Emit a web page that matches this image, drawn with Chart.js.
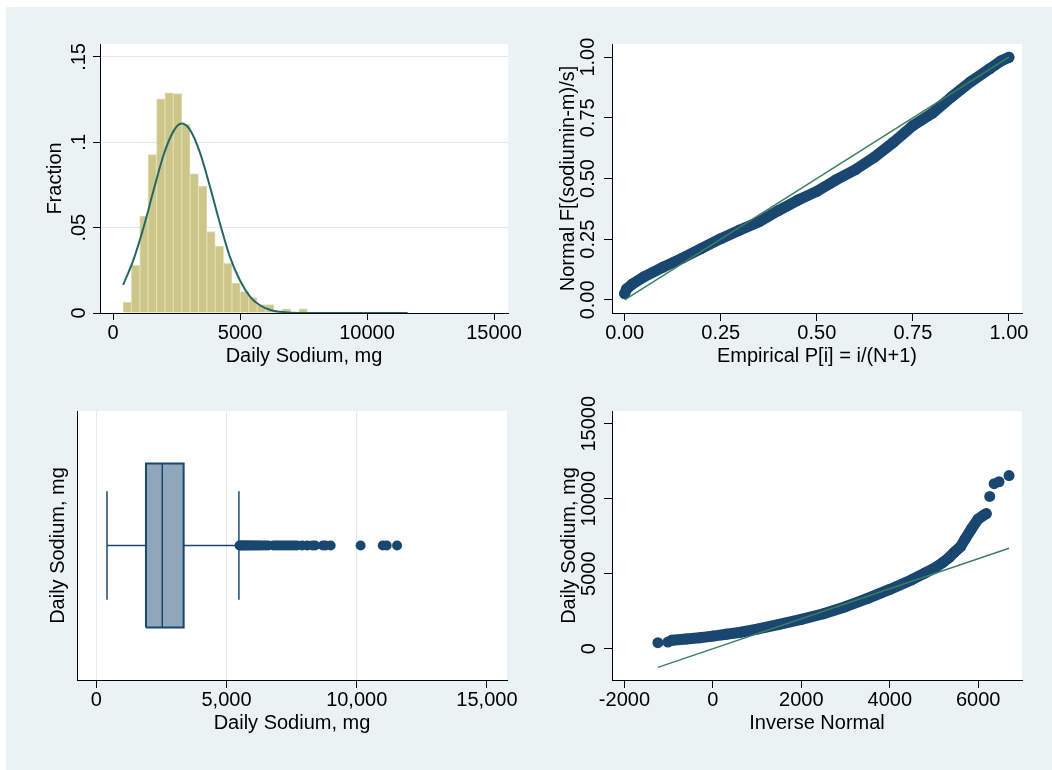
<!DOCTYPE html>
<html>
<head>
<meta charset="utf-8">
<script src="https://cdn.jsdelivr.net/npm/chart.js@4.4.1/dist/chart.umd.min.js"></script>
<style>
  html, body { margin: 0; padding: 0; background: #fff; }
  #page { position: relative; width: 1052px; height: 770px; overflow: hidden; }
  #bg { position: absolute; left: 6px; top: 7px; right: 0; bottom: 0; background: #eaf2f3; }
  canvas { position: absolute; }
</style>
</head>
<body>
<div id="page">
  <div id="bg"></div>
  <canvas id="hist" width="526" height="385" style="left:0;top:0"></canvas>
  <canvas id="pnorm" width="526" height="385" style="left:526px;top:0"></canvas>
  <canvas id="box" width="526" height="385" style="left:0;top:385px"></canvas>
  <canvas id="qnorm" width="526" height="385" style="left:526px;top:385px"></canvas>
</div>
<script>
// --- histogram: bin centres (mg) and fraction per bin
const histBins = [559, 889, 1219, 1549, 1879, 2209, 2539, 2869, 3199, 3529, 3859, 4189, 4519, 4849, 5179, 5509, 5839,
                  6169, 6499, 6829, 7159, 7489, 7819, 8149, 8479, 8809, 9139, 9469, 9799, 10129, 10459, 10789, 11119, 11449];
const histFraction = [0.0063, 0.0280, 0.0568, 0.0928, 0.1255, 0.1290, 0.1285, 0.1105, 0.0816, 0.0743, 0.0477, 0.0392,
                      0.0291, 0.0176, 0.0125, 0.0090, 0.0050, 0.0049, 0.0010, 0.0024, 0.0006, 0.0024, 0.0006, 0.0003,
                      0.0000, 0.0006, 0.0003, 0.0000, 0.0000, 0.0000, 0.0003, 0.0000, 0.0006, 0.0003];
// normal curve overlay
const normalX = [400, 800, 1200, 1600, 2000, 2400, 2700, 3000, 3400, 3800, 4200, 4600, 5000, 5400, 5800, 6200, 6600, 7000, 7600, 8500, 10000, 11600];
const normalY = [0.0165, 0.031, 0.050, 0.072, 0.093, 0.107, 0.111, 0.108, 0.095, 0.075, 0.053, 0.033, 0.019, 0.0095,
                 0.0044, 0.0018, 0.0007, 0.0002, 0, 0, 0, 0];

// --- P-P plot
const ppEmpirical = [0.000, 0.005, 0.02, 0.05, 0.10, 0.15, 0.20, 0.25, 0.30, 0.35, 0.40, 0.45, 0.50, 0.55, 0.60, 0.65,
                     0.70, 0.75, 0.80, 0.85, 0.90, 0.95, 0.98, 1.00];
const ppNormal = [0.026, 0.045, 0.065, 0.095, 0.135, 0.172, 0.212, 0.252, 0.288, 0.322, 0.368, 0.410, 0.447, 0.494,
                  0.536, 0.588, 0.650, 0.718, 0.768, 0.835, 0.898, 0.952, 0.985, 0.999];

// --- box plot
const boxWhiskers = [411, 5476];
const boxQuartiles = [1907, 2533, 3354];
const boxOutliers = [5500, 5550, 5600, 5650, 5700, 5760, 5820, 5880, 5950, 6000, 6080, 6150, 6230, 6300, 6400, 6500,
                     6600, 6800, 6900, 7000, 7100, 7200, 7300, 7400, 7500, 7600, 7700, 7900, 8100, 8300, 8400, 8700,
                     8800, 9000, 10150, 11000, 11150, 11550];

// --- Q-Q plot
const qqInverse = [-926, -600, -300, 0, 300, 600, 1000, 1500, 2000, 2500, 3000, 3500, 4000, 4500, 4800, 5000, 5200,
                   5350, 5450, 5600, 5700, 5850, 6000, 6100, 6180];
const qqSodium = [560, 650, 730, 840, 960, 1080, 1300, 1620, 1960, 2330, 2800, 3350, 3950, 4600, 5050, 5350, 5750,
                  6100, 6400, 6800, 7300, 8000, 8650, 8850, 9000];
const qqTailInverse = [-1243, -1017, 6260, 6360, 6470, 6697];
const qqTailSodium = [400, 444, 10150, 11000, 11130, 11540];
const qqLine = [-1243, 6697];

// tick values and labels
const histXTicks = [0, 5000, 10000, 15000];
const histXLabels = ['0', '5000', '10000', '15000'];
const histYTicks = [0, 0.05, 0.1, 0.15];
const histYLabels = ['0', '.05', '.1', '.15'];
const ppTicks = [0, 0.25, 0.5, 0.75, 1];
const ppLabels = ['0.00', '0.25', '0.50', '0.75', '1.00'];
const boxXTicks = [0, 5000, 10000, 15000];
const boxXLabels = ['0', '5,000', '10,000', '15,000'];
const qqXTicks = [-2000, 0, 2000, 4000, 6000];
const qqXLabels = ['-2000', '0', '2000', '4000', '6000'];
const qqYTicks = [0, 5000, 10000, 15000];
const qqYLabels = ['0', '5000', '10000', '15000'];

const FONT = '"Liberation Sans", Arial, Helvetica, sans-serif';
const FS = 20;
const NAVY = '#1a476f';
const GRID = '#e2eaee';
const REF = '#3b7f60';

Chart.defaults.font.family = FONT;
Chart.defaults.font.size = FS;
Chart.defaults.color = '#000';

const measure = document.createElement('canvas').getContext('2d');
measure.font = FS + 'px ' + FONT;
function widest(labels) {
    return Math.max(...labels.map(t => measure.measureText(t).width));
}

const plotBackground = {
    id: 'plotBackground',
    beforeDraw(chart) {
        const { ctx, chartArea: a } = chart;
        ctx.save();
        ctx.fillStyle = '#fff';
        ctx.fillRect(a.left, a.top, a.right - a.left, a.bottom - a.top);
        ctx.restore();
    }
};
Chart.register(plotBackground);

function xAxis({ min, max, ticks, labels, title, height, titlePad, tl, grid }) {
    return {
        type: 'linear', position: 'bottom', min, max, offset: false,
        afterBuildTicks: s => { s.ticks = ticks.map(v => ({ value: v })); },
        afterFit: s => { s.height = height; },
        ticks: { autoSkip: false, minRotation: 0, maxRotation: 0, padding: 8.7 - tl, color: '#000',
                 callback: (v, i) => labels[i] },
        grid: { offset: false, drawOnChartArea: !!grid, color: grid || 'transparent', tickLength: tl, tickColor: '#000' },
        border: { display: true, color: '#000', width: 1 },
        title: { display: true, text: title, color: '#000', padding: { top: 0, bottom: titlePad } }
    };
}

function yAxis({ min, max, ticks, labels, title, width, titlePad, dist, tl, grid, hide }) {
    return {
        type: 'linear', position: 'left', min, max,
        afterBuildTicks: s => { s.ticks = ticks.map(v => ({ value: v })); },
        afterFit: s => { s.width = width; },
        ticks: { display: !hide, autoSkip: false, minRotation: 90, maxRotation: 90, crossAlign: 'center',
                 padding: hide ? 0 : dist - tl - widest(labels) / 2, color: '#000',
                 callback: (v, i) => labels[i] },
        grid: { drawOnChartArea: !!grid, color: grid || 'transparent', tickLength: tl, tickColor: '#000', drawTicks: !hide },
        border: { display: true, color: '#000', width: 1 },
        title: { display: true, text: title, color: '#000', padding: { top: titlePad, bottom: 0 } }
    };
}

function baseOptions(padding, scales) {
    return {
        responsive: false, animation: false, devicePixelRatio: 1,
        layout: { padding },
        plugins: { legend: { display: false }, tooltip: { enabled: false } },
        scales
    };
}

function points(xs, ys) {
    return xs.map((x, i) => ({ x, y: ys[i] }));
}

// top left: histogram with normal curve
new Chart(document.getElementById('hist'), {
    type: 'bar',
    data: {
        datasets: [{
            type: 'line',
            data: points(normalX, normalY),
            borderColor: '#246864', borderWidth: 2, pointRadius: 0, cubicInterpolationMode: 'monotone'
        }, {
            type: 'bar',
            data: points(histBins, histFraction),
            backgroundColor: '#cdc68a', borderColor: '#e0dbae', borderWidth: 1, borderSkipped: 'start',
            barPercentage: 1, categoryPercentage: 1
        }]
    },
    options: baseOptions({ left: 0, top: 44, right: 18, bottom: 0 }, {
        x: xAxis({ min: -512, max: 15551, ticks: histXTicks, labels: histXLabels, title: 'Daily Sodium, mg',
                   height: 72, titlePad: 16.5, tl: 7 }),
        y: yAxis({ min: 0, max: 0.1576, ticks: histYTicks, labels: histYLabels, title: 'Fraction',
                   width: 100, titlePad: 43.5, dist: 21, tl: 7,
                   grid: c => (c.tick && c.tick.value === 0 ? 'transparent' : GRID) })
    })
});

// top right: standardized normal probability plot
new Chart(document.getElementById('pnorm'), {
    type: 'scatter',
    data: {
        datasets: [{
            data: points([0, 1], [0, 1]),
            showLine: true, borderColor: REF, borderWidth: 1.5, pointRadius: 0
        }, {
            data: points(ppEmpirical, ppNormal),
            showLine: true, borderColor: NAVY, borderWidth: 11, borderCapStyle: 'round', borderJoinStyle: 'round',
            pointRadius: 5.5, pointBackgroundColor: NAVY, pointBorderWidth: 0
        }]
    },
    options: baseOptions({ left: 0, top: 44, right: 30, bottom: 0 }, {
        x: xAxis({ min: -0.033, max: 1.034, ticks: ppTicks, labels: ppLabels, title: 'Empirical P[i] = i/(N+1)',
                   height: 72, titlePad: 16.5, tl: 8 }),
        y: yAxis({ min: -0.054, max: 1.054, ticks: ppTicks, labels: ppLabels, title: 'Normal F[(sodiumin-m)/s]',
                   width: 86, titlePad: 30, dist: 24, tl: 8 })
    })
});

// bottom left: horizontal box plot
const BOX_LO = 0.195, BOX_HI = 0.805, CAP_LO = 0.298, CAP_HI = 0.702, MID = 0.5;
const boxLine = { showLine: true, borderColor: NAVY, borderWidth: 1.5, pointRadius: 0 };
new Chart(document.getElementById('box'), {
    type: 'scatter',
    data: {
        datasets: [
            { ...boxLine, data: [{ x: boxQuartiles[1], y: BOX_LO }, { x: boxQuartiles[1], y: BOX_HI }] },
            { ...boxLine, borderWidth: 2, backgroundColor: '#8fa6bb', fill: 'shape',
              data: [{ x: boxQuartiles[0], y: BOX_LO }, { x: boxQuartiles[2], y: BOX_LO }, { x: boxQuartiles[2], y: BOX_HI },
                     { x: boxQuartiles[0], y: BOX_HI }, { x: boxQuartiles[0], y: BOX_LO }] },
            { ...boxLine, data: [{ x: boxWhiskers[0], y: MID }, { x: boxQuartiles[0], y: MID }] },
            { ...boxLine, data: [{ x: boxQuartiles[2], y: MID }, { x: boxWhiskers[1], y: MID }] },
            { ...boxLine, data: [{ x: boxWhiskers[0], y: CAP_LO }, { x: boxWhiskers[0], y: CAP_HI }] },
            { ...boxLine, data: [{ x: boxWhiskers[1], y: CAP_LO }, { x: boxWhiskers[1], y: CAP_HI }] },
            { data: boxOutliers.map(x => ({ x, y: MID })), pointRadius: 5, pointBackgroundColor: NAVY, pointBorderWidth: 0 }
        ]
    },
    options: baseOptions({ left: 0, top: 26, right: 19, bottom: 0 }, {
        x: xAxis({ min: -741, max: 15771, ticks: boxXTicks, labels: boxXLabels, title: 'Daily Sodium, mg',
                   height: 90, titlePad: 34.5, tl: 8,
                   grid: c => (c.tick && c.tick.value === 15000 ? 'transparent' : GRID) }),
        y: yAxis({ min: 0, max: 1, ticks: [MID], labels: [''], title: 'Daily Sodium, mg',
                   width: 77, titlePad: 46.5, dist: 0, tl: 0, hide: true })
    })
});

// bottom right: quantile-normal plot
new Chart(document.getElementById('qnorm'), {
    type: 'scatter',
    data: {
        datasets: [{
            data: points(qqLine, qqLine),
            showLine: true, borderColor: REF, borderWidth: 1.5, pointRadius: 0
        }, {
            data: points(qqInverse, qqSodium),
            showLine: true, borderColor: NAVY, borderWidth: 11, borderCapStyle: 'round', borderJoinStyle: 'round',
            pointRadius: 5.5, pointBackgroundColor: NAVY, pointBorderWidth: 0
        }, {
            data: points(qqTailInverse, qqTailSodium),
            pointRadius: 5.5, pointBackgroundColor: NAVY, pointBorderWidth: 0
        }]
    },
    options: baseOptions({ left: 0, top: 26, right: 30, bottom: 0 }, {
        x: xAxis({ min: -2281, max: 6990, ticks: qqXTicks, labels: qqXLabels, title: 'Inverse Normal',
                   height: 90, titlePad: 34.5, tl: 8 }),
        y: yAxis({ min: -2087, max: 15847, ticks: qqYTicks, labels: qqYLabels, title: 'Daily Sodium, mg',
                   width: 86, titlePad: 31, dist: 23, tl: 8 })
    })
});
</script>
</body>
</html>
